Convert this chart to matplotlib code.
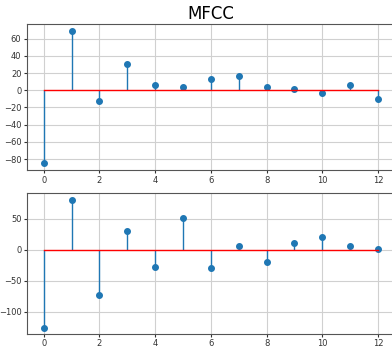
import matplotlib
matplotlib.use("Agg")
import matplotlib.pyplot as plt
from matplotlib.ticker import MultipleLocator
import numpy as np

# MFCC coefficients, two frames
coef_idx = np.arange(13)
mfcc_top = [-85, 69, -12, 30, 5.5, 3.5, 13, 17, 4, 1.5, -3, 6, -10]
mfcc_bottom = [-125, 81, -73, 30, -28, 52, -29, 6, -19, 11, 20, 7, 1.5]

fig = plt.figure(figsize=(3.92, 3.5), dpi=100)
ax1 = fig.add_axes([0.069, 0.514, 0.938, 0.417])
ax2 = fig.add_axes([0.069, 0.046, 0.938, 0.402])

for ax, vals in [(ax1, mfcc_top), (ax2, mfcc_bottom)]:
    markerline, stemlines, baseline = ax.stem(coef_idx, vals, basefmt="r-")
    markerline.set_markersize(4)
    stemlines.set_linewidth(1)
    baseline.set_linewidth(1)
    ax.grid(True, color="#d0d0d0", linewidth=0.8)
    ax.set_axisbelow(True)
    ax.tick_params(labelsize=6, length=2.5, pad=1.5, colors="#333333")
    for s in ax.spines.values():
        s.set_color("#555555")
        s.set_linewidth(0.8)

ax1.yaxis.set_major_locator(MultipleLocator(20))
ax1.set_title("MFCC", fontsize=12, pad=4)

fig.savefig("out.png", dpi=100)
